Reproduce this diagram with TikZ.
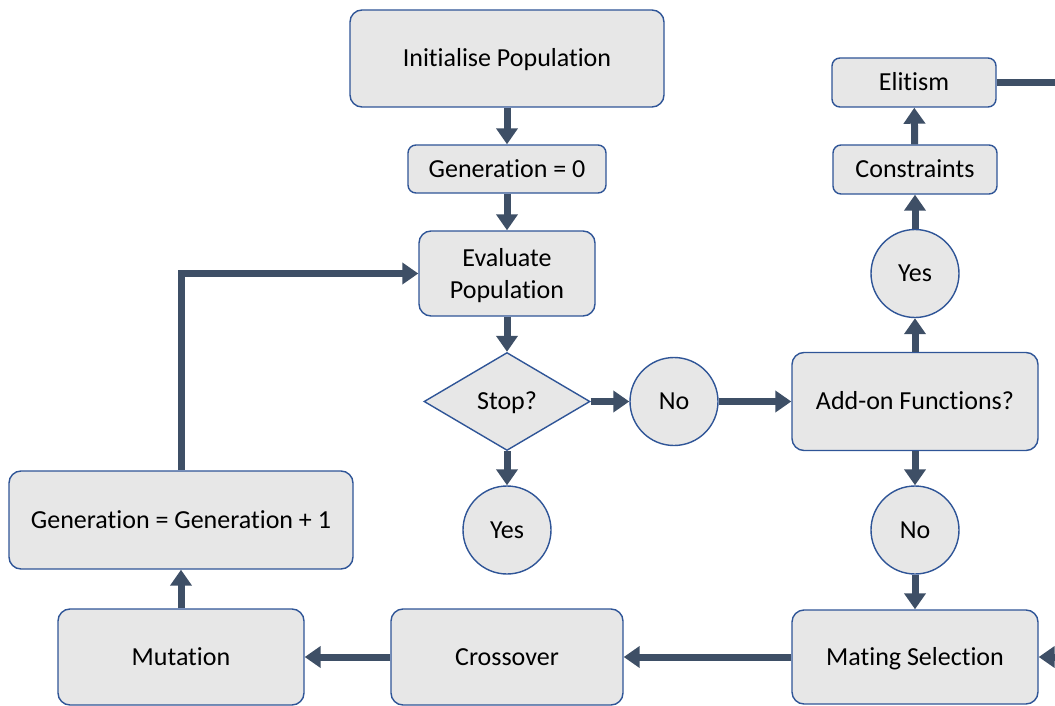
\documentclass[tikz,border=0pt]{standalone}
\usepackage{fontspec}
\setmainfont{Carlito}[Ligatures=NoCommon]
\usetikzlibrary{arrows.meta,shapes.geometric}
\definecolor{boxfill}{HTML}{E7E7E7}
\definecolor{boxline}{HTML}{2F5597}
\definecolor{arrowc}{HTML}{3E4F66}
\tikzset{
  base/.style={draw=boxline, fill=boxfill, line width=1.4pt, inner sep=0pt, font=\fontsize{26}{32}\selectfont, text=black, align=center},
  one/.style={text height=20pt, text depth=4pt},
  rbox/.style={base, rectangle, rounded corners=12pt, minimum width=#1},
  circ/.style={base, one, circle, minimum size=88pt},
  dia/.style={base, one, diamond, minimum width=166pt, minimum height=98pt, aspect=1.7},
  arr/.style={draw=arrowc, line width=7pt, -{Triangle[width=21pt,length=16pt]}}
}
\begin{document}
\begin{tikzpicture}[x=1pt,y=-1pt]
\useasboundingbox (0,0) rectangle (1055,706);
\clip (0,0) rectangle (1055,706);
\node[rbox=314pt, one, minimum height=97pt] (init) at (507,58.5) {Initialise Population};
\node[rbox=198pt, one, minimum height=48pt, rounded corners=8pt] (gen0) at (507,169) {Generation = 0};
\node[rbox=176pt, minimum height=85pt] (eval) at (507,273.5) {\rule{0pt}{23pt}Evaluate\\Population};
\node[dia] (stop) at (507,401.5) {Stop?};
\node[circ] (yes1) at (507,530) {Yes};
\node[circ] (no1) at (674,401.5) {No};
\node[rbox=246pt, one, minimum height=98pt] (addon) at (915,401.5) {Add-on Functions?};
\node[circ] (yes2) at (915,273.5) {Yes};
\node[rbox=164pt, one, minimum height=49pt, rounded corners=8pt] (cons) at (915,169.5) {Constraints};
\node[rbox=164pt, one, minimum height=49pt, rounded corners=8pt] (elit) at (914,82.5) {Elitism};
\node[circ] (no2) at (915,530) {No};
\node[rbox=246pt, one, minimum height=94pt] (mate) at (915,657) {Mating Selection};
\node[rbox=232pt, one, minimum height=96pt] (cross) at (507,657) {Crossover};
\node[rbox=246pt, one, minimum height=96pt] (mut) at (181,657) {Mutation};
\node[rbox=344pt, one, minimum height=98pt] (geninc) at (181,520) {Generation = Generation + 1};
\coordinate (out1) at (1080,82.5);
\coordinate (out2) at (1080,657);

\draw[arr] (init) -- (gen0);
\draw[arr] (gen0) -- (eval);
\draw[arr] (eval) -- (stop);
\draw[arr] (stop) -- (yes1);
\draw[arr] (stop) -- (no1);
\draw[arr] (no1) -- (addon);
\draw[arr] (addon) -- (yes2);
\draw[arr] (yes2) -- (cons);
\draw[arr] (cons) -- (elit);
\draw[arr] (addon) -- (no2);
\draw[arr] (no2) -- (mate);
\draw[arr] (elit.east) -- (out1) -- (out2) -- (mate.east);
\draw[arr] (mate) -- (cross);
\draw[arr] (cross) -- (mut);
\draw[arr] (mut) -- (geninc);
\draw[arr] (geninc.north) |- (eval.west);
\end{tikzpicture}
\end{document}
